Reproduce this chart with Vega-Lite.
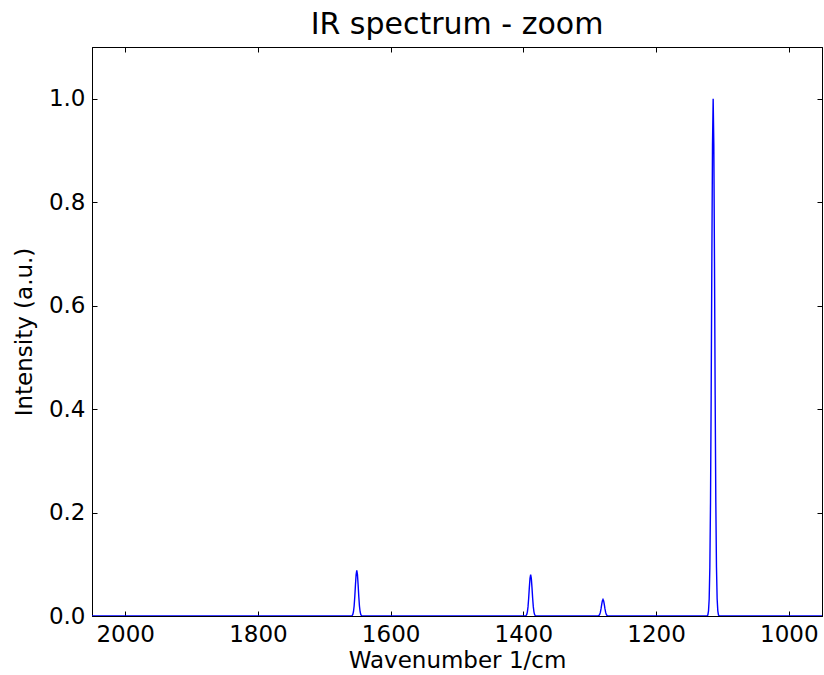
{
  "$schema": "https://vega.github.io/schema/vega-lite/v6.json",
  "width": 730,
  "height": 569,
  "autosize": "none",
  "padding": {"left": 92, "top": 47, "right": 2, "bottom": 59},
  "title": {"text": "IR spectrum - zoom", "fontSize": 30, "font": "DejaVu Sans", "fontWeight": "normal", "color": "#000000", "offset": 7},
  "config": {
    "view": {"stroke": "#000000", "strokeWidth": 1},
    "axis": {"labelFont": "DejaVu Sans", "titleFont": "DejaVu Sans", "labelFontSize": 23, "titleFontSize": 23, "titleFontWeight": "normal", "labelColor": "#000000", "titleColor": "#000000", "domainColor": "#000000", "tickColor": "#000000", "grid": false, "tickSize": -5, "labelPadding": 12}
  },
  "data": {"values": [
    {"wn": 2050, "I": 0}, {"wn": 1800, "I": 0}, {"wn": 1660, "I": 0},
    {"wn": 1659, "I": 0.0002}, {"wn": 1658, "I": 0.0009}, {"wn": 1657, "I": 0.0029}, {"wn": 1656, "I": 0.0083}, {"wn": 1655, "I": 0.0194}, {"wn": 1654, "I": 0.0376}, {"wn": 1653, "I": 0.0603}, {"wn": 1652, "I": 0.0801},
    {"wn": 1651, "I": 0.088},
    {"wn": 1650, "I": 0.0801}, {"wn": 1649, "I": 0.0603}, {"wn": 1648, "I": 0.0376}, {"wn": 1647, "I": 0.0194}, {"wn": 1646, "I": 0.0083}, {"wn": 1645, "I": 0.0029}, {"wn": 1644, "I": 0.0009}, {"wn": 1643, "I": 0.0002}, {"wn": 1642, "I": 0},
    {"wn": 1500, "I": 0}, {"wn": 1398, "I": 0},
    {"wn": 1397, "I": 0.0002}, {"wn": 1396, "I": 0.0008}, {"wn": 1395, "I": 0.0026}, {"wn": 1394, "I": 0.0075}, {"wn": 1393, "I": 0.0176}, {"wn": 1392, "I": 0.0342}, {"wn": 1391, "I": 0.0548}, {"wn": 1390, "I": 0.0728},
    {"wn": 1389, "I": 0.08},
    {"wn": 1388, "I": 0.0728}, {"wn": 1387, "I": 0.0548}, {"wn": 1386, "I": 0.0342}, {"wn": 1385, "I": 0.0176}, {"wn": 1384, "I": 0.0075}, {"wn": 1383, "I": 0.0026}, {"wn": 1382, "I": 0.0008}, {"wn": 1381, "I": 0.0002}, {"wn": 1380, "I": 0},
    {"wn": 1330, "I": 0}, {"wn": 1289, "I": 0},
    {"wn": 1288, "I": 0.0001}, {"wn": 1287, "I": 0.0003}, {"wn": 1286, "I": 0.0011}, {"wn": 1285, "I": 0.003}, {"wn": 1284, "I": 0.007}, {"wn": 1283, "I": 0.0137}, {"wn": 1282, "I": 0.0219}, {"wn": 1281, "I": 0.0291},
    {"wn": 1280, "I": 0.032},
    {"wn": 1279, "I": 0.0291}, {"wn": 1278, "I": 0.0219}, {"wn": 1277, "I": 0.0137}, {"wn": 1276, "I": 0.007}, {"wn": 1275, "I": 0.003}, {"wn": 1274, "I": 0.0011}, {"wn": 1273, "I": 0.0003}, {"wn": 1272, "I": 0.0001}, {"wn": 1271, "I": 0},
    {"wn": 1200, "I": 0}, {"wn": 1123, "I": 0},
    {"wn": 1122, "I": 0.002}, {"wn": 1121, "I": 0.01}, {"wn": 1120, "I": 0.033}, {"wn": 1119, "I": 0.094}, {"wn": 1118, "I": 0.22}, {"wn": 1117, "I": 0.427}, {"wn": 1116, "I": 0.685}, {"wn": 1115, "I": 0.91},
    {"wn": 1114, "I": 1.0},
    {"wn": 1113, "I": 0.91}, {"wn": 1112, "I": 0.685}, {"wn": 1111, "I": 0.427}, {"wn": 1110, "I": 0.22}, {"wn": 1109, "I": 0.094}, {"wn": 1108, "I": 0.033}, {"wn": 1107, "I": 0.01}, {"wn": 1106, "I": 0.002}, {"wn": 1105, "I": 0},
    {"wn": 1000, "I": 0}, {"wn": 950, "I": 0}
  ]},
  "layer": [
    {
      "mark": {"type": "line", "color": "#0000ff", "strokeWidth": 1.4, "clip": true},
      "encoding": {
        "x": {"field": "wn", "type": "quantitative", "scale": {"domain": [2050, 950], "nice": false, "zero": false}, "axis": {"title": "Wavenumber 1/cm", "values": [2000, 1800, 1600, 1400, 1200, 1000], "format": "d", "labelPadding": 12, "titlePadding": 3}},
        "y": {"field": "I", "type": "quantitative", "scale": {"domain": [0, 1.1], "nice": false}, "axis": {"title": "Intensity (a.u.)", "values": [0, 0.2, 0.4, 0.6, 0.8, 1.0], "format": ".1f", "labelPadding": 12, "titlePadding": 12}}
      }
    },
    {
      "mark": {"type": "line", "opacity": 0},
      "encoding": {
        "x": {"field": "wn", "type": "quantitative", "axis": {"orient": "top", "labels": false, "title": null, "values": [2000, 1800, 1600, 1400, 1200, 1000]}},
        "y": {"field": "I", "type": "quantitative", "axis": {"orient": "right", "labels": false, "title": null, "values": [0, 0.2, 0.4, 0.6, 0.8, 1.0]}}
      }
    }
  ],
  "resolve": {"axis": {"x": "independent", "y": "independent"}}
}
